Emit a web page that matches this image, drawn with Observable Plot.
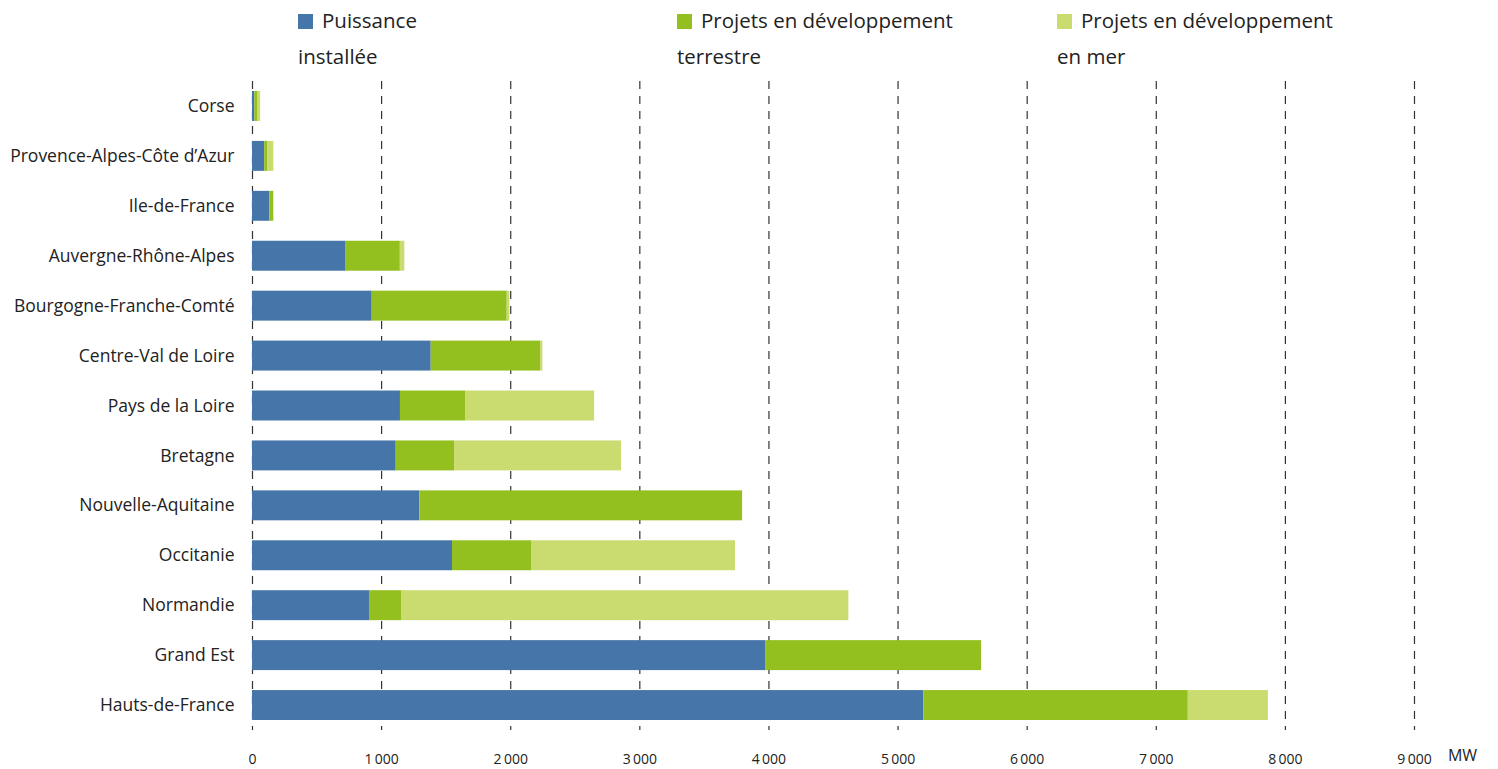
<!DOCTYPE html>
<html>
<head>
<meta charset="utf-8">
<script src="https://cdn.jsdelivr.net/npm/d3@7"></script>
<script src="https://cdn.jsdelivr.net/npm/@observablehq/plot@0.6"></script>
<style>
  html, body { margin: 0; padding: 0; background: #fff; }
  body { width: 1498px; height: 769px; overflow: hidden; font-family: "Open Sans", sans-serif; }
  #legend { position: relative; height: 72px; }
  .item { position: absolute; top: 2px; font-size: 20.5px; line-height: 36px; color: #222; }
  .sw { display: inline-block; width: 15px; height: 15px; margin-right: 9px; vertical-align: -1px; }
  #chart svg { display: block; }
</style>
</head>
<body>
<div id="legend"></div>
<div id="chart"></div>
<script>
const regions = ["Corse", "Provence-Alpes-Côte d’Azur", "Ile-de-France", "Auvergne-Rhône-Alpes",
  "Bourgogne-Franche-Comté", "Centre-Val de Loire", "Pays de la Loire", "Bretagne",
  "Nouvelle-Aquitaine", "Occitanie", "Normandie", "Grand Est", "Hauts-de-France"];
const installed = [18, 95, 135, 725, 927, 1384, 1146, 1113, 1296, 1549, 906, 3974, 5200];
const onshore   = [25, 25, 30, 420, 1046, 847, 504, 452, 2500, 612, 248, 1673, 2048];
const offshore  = [20, 45, 0, 35, 20, 18, 1000, 1293, 0, 1580, 3465, 0, 620];
const seriesNames = ["Puissance installée", "Projets en développement terrestre", "Projets en développement en mer"];
const seriesColors = ["#4675a9", "#93c01f", "#cadb70"];
const xTicks = [0, 1000, 2000, 3000, 4000, 5000, 6000, 7000, 8000, 9000];

const seriesValues = [installed, onshore, offshore];
const data = [];
regions.forEach((r, i) => {
  seriesValues.forEach((vals, s) => data.push({region: r, type: seriesNames[s], value: vals[i]}));
});

// legend
const legendLefts = [298, 677, 1057];
const legendWidths = [140, 288, 288];
const legend = document.getElementById("legend");
seriesNames.forEach((name, i) => {
  const d = document.createElement("div");
  d.className = "item";
  d.style.left = legendLefts[i] + "px";
  d.style.width = legendWidths[i] + "px";
  const sw = document.createElement("span");
  sw.className = "sw";
  sw.style.background = seriesColors[i];
  d.appendChild(sw);
  d.appendChild(document.createTextNode(name));
  legend.appendChild(d);
});

const fmt = v => v === 0 ? "0" : d3.format(",")(v).replace(/,/g, "\u2009");

const chart = Plot.plot({
  width: 1498,
  height: 697,
  marginLeft: 252,
  marginRight: 84,
  marginTop: 9,
  marginBottom: 39,
  style: {fontFamily: "Open Sans, sans-serif", color: "#222", background: "#fff"},
  x: {domain: [0, 9000], axis: null},
  y: {domain: regions, paddingInner: 0.4, paddingOuter: 0.2, round: false, axis: null},
  color: {domain: seriesNames, range: seriesColors},
  marks: [
    Plot.ruleX(xTicks, {stroke: "#333", strokeWidth: 1.2, strokeDasharray: "8,7"}),
    Plot.barX(data, {x: "value", y: "region", fill: "type"}),
    Plot.axisY({tickSize: 0, tickPadding: 18, fontSize: 17.5, label: null}),
    Plot.axisX({ticks: xTicks, tickSize: 0, tickPadding: 24, fontSize: 14, tickFormat: fmt, label: null}),
    Plot.text(["MW"], {frameAnchor: "bottom-right", dx: 48, dy: 30, fontSize: 16, textAnchor: "middle"})
  ]
});
document.getElementById("chart").appendChild(chart);
</script>
</body>
</html>
